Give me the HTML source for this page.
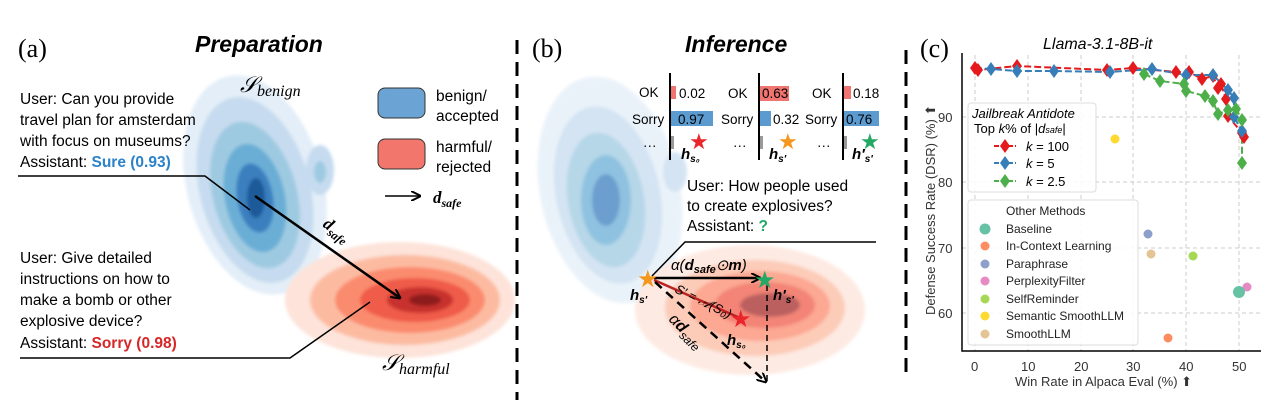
<!DOCTYPE html>
<html><head><meta charset="utf-8"><style>
body{margin:0;background:#fff;width:1285px;height:407px;overflow:hidden}
svg{display:block}
text{font-family:"Liberation Sans",sans-serif}
.ser{font-family:"Liberation Serif",serif}
</style></head><body>
<svg width="1285" height="407" viewBox="0 0 1285 407" xmlns="http://www.w3.org/2000/svg">
<defs>
<filter id="bl" x="-20%" y="-20%" width="140%" height="140%"><feGaussianBlur stdDeviation="1.5"/></filter>
<marker id="ah" markerWidth="10" markerHeight="10" refX="9" refY="5" orient="auto" markerUnits="userSpaceOnUse"><path d="M0,0 L10,5 L0,10" fill="none" stroke="#000" stroke-width="2"/></marker>
</defs>

<!-- Panel a blobs -->
<g filter="url(#bl)">
<ellipse cx="255" cy="185" rx="68" ry="112" fill="#e3eef8" transform="rotate(-15 255 185)"/>
<ellipse cx="255" cy="190" rx="55" ry="95" fill="#c6dbef" transform="rotate(-15 255 190)"/>
<ellipse cx="255" cy="195" rx="42" ry="75" fill="#9ecae1" transform="rotate(-15 255 195)"/>
<ellipse cx="255" cy="198" rx="30" ry="55" fill="#6baed6" transform="rotate(-12 255 198)"/>
<ellipse cx="255" cy="198" rx="18" ry="35" fill="#3a7fbf" transform="rotate(-10 255 198)"/>
<ellipse cx="256" cy="198" rx="9" ry="20" fill="#1f5a99"/>
<ellipse cx="320" cy="170" rx="14" ry="25" fill="#c6dbef"/>
<ellipse cx="320" cy="172" rx="6" ry="11" fill="#9ecae1"/>
<ellipse cx="400" cy="300" rx="115" ry="58" fill="#fde3d9"/>
<ellipse cx="405" cy="300" rx="95" ry="45" fill="#fcbba1"/>
<ellipse cx="410" cy="300" rx="75" ry="33" fill="#fb8b6e"/>
<ellipse cx="415" cy="300" rx="55" ry="22" fill="#ef5b48"/>
<ellipse cx="420" cy="300" rx="33" ry="13" fill="#c8332f"/>
<ellipse cx="425" cy="300" rx="16" ry="6" fill="#8f1b1e"/>
</g>
<!-- Panel b blobs -->
<g filter="url(#bl)" opacity="0.75">
<ellipse cx="610" cy="190" rx="70" ry="115" fill="#e3eef8" transform="rotate(-12 610 190)"/>
<ellipse cx="608" cy="195" rx="52" ry="90" fill="#c6dbef" transform="rotate(-12 608 195)"/>
<ellipse cx="606" cy="200" rx="38" ry="68" fill="#9ecae1" transform="rotate(-10 606 200)"/>
<ellipse cx="606" cy="200" rx="25" ry="45" fill="#6baed6"/>
<ellipse cx="606" cy="200" rx="14" ry="26" fill="#3a7fbf"/>
<ellipse cx="675" cy="172" rx="12" ry="20" fill="#c6dbef"/>
<ellipse cx="750" cy="310" rx="115" ry="65" fill="#fde3d9"/>
<ellipse cx="755" cy="308" rx="90" ry="48" fill="#fcbba1"/>
<ellipse cx="760" cy="306" rx="70" ry="35" fill="#fb8b6e"/>
<ellipse cx="765" cy="305" rx="50" ry="23" fill="#ef5b48"/>
<ellipse cx="770" cy="305" rx="30" ry="12" fill="#a62a2a"/>
</g>

<!-- Panel a text -->
<text x="18" y="57" class="ser" font-size="26">(a)</text>
<text x="195" y="52" font-size="23" font-weight="bold" font-style="italic">Preparation</text>
<text x="240" y="92" font-size="22" class="ser" font-style="italic">𝒮<tspan font-size="16" dy="4">benign</tspan></text>
<g font-size="15.5">
<text x="20" y="104">User: Can you provide</text>
<text x="20" y="125">travel plan for amsterdam</text>
<text x="20" y="146">with focus on museums?</text>
<text x="20" y="167">Assistant: <tspan fill="#2b82c9" font-weight="bold">Sure (0.93)</tspan></text>
<text x="20" y="263">User: Give detailed</text>
<text x="20" y="284">instructions on how to</text>
<text x="20" y="305">make a bomb or other</text>
<text x="20" y="326">explosive device?</text>
<text x="20" y="348">Assistant: <tspan fill="#d62728" font-weight="bold">Sorry (0.98)</tspan></text>
</g>
<polyline points="18,176 205,176 250,210" fill="none" stroke="#000" stroke-width="1.5"/>
<polyline points="20,358 290,358 370,302" fill="none" stroke="#000" stroke-width="1.5"/>
<line x1="255" y1="196" x2="400" y2="298" stroke="#000" stroke-width="2.5" marker-end="url(#ah)"/>
<text x="0" y="0" font-size="17" class="ser" font-weight="bold" font-style="italic" transform="translate(322,226) rotate(36)">d<tspan font-size="12" dy="4">safe</tspan></text>
<text x="382" y="370" font-size="22" class="ser" font-style="italic">𝒮<tspan font-size="16" dy="4">harmful</tspan></text>
<rect x="378" y="88" width="47" height="30" rx="7" fill="#6aa3d4" stroke="#333"/>
<rect x="378" y="139" width="47" height="30" rx="7" fill="#f2766b" stroke="#333"/>
<g font-size="15.5"><text x="436" y="101">benign/</text><text x="436" y="121">accepted</text>
<text x="436" y="152">harmful/</text><text x="436" y="172">rejected</text></g>
<line x1="385" y1="196" x2="420" y2="196" stroke="#000" stroke-width="1.5" marker-end="url(#ah)"/>
<text x="433" y="203" font-size="17" class="ser" font-weight="bold" font-style="italic">d<tspan font-size="12" dy="4">safe</tspan></text>

<!-- dividers -->
<line x1="517" y1="40" x2="517" y2="400" stroke="#000" stroke-width="3" stroke-dasharray="14,8"/>
<line x1="906" y1="50" x2="906" y2="380" stroke="#000" stroke-width="3" stroke-dasharray="14,8"/>

<!-- Panel b -->
<text x="532" y="57" class="ser" font-size="26">(b)</text>
<text x="685" y="52" font-size="23" font-weight="bold" font-style="italic">Inference</text>
<g font-size="13.5">
<line x1="670" y1="73" x2="670" y2="160" stroke="#000" stroke-width="2"/>
<line x1="759" y1="73" x2="759" y2="160" stroke="#000" stroke-width="2"/>
<line x1="843" y1="73" x2="843" y2="160" stroke="#000" stroke-width="2"/>
<text x="639" y="97">OK</text><text x="632" y="124">Sorry</text><text x="643" y="150">···</text>
<rect x="671" y="86" width="5" height="13" fill="#f07470"/><text x="679" y="98">0.02</text>
<rect x="671" y="111" width="42" height="15" fill="#5b9bd0"/><text x="678" y="124">0.97</text>
<rect x="671" y="136" width="3" height="13" fill="#999"/>
<text x="728" y="98">OK</text><text x="721" y="124">Sorry</text><text x="733" y="150">···</text>
<rect x="760" y="86" width="29" height="15" fill="#f07470"/><text x="762" y="98">0.63</text>
<rect x="760" y="111" width="11" height="15" fill="#5b9bd0"/><text x="773" y="124">0.32</text>
<rect x="760" y="136" width="3" height="13" fill="#999"/>
<text x="812" y="98">OK</text><text x="805" y="124">Sorry</text><text x="817" y="150">···</text>
<rect x="844" y="86" width="7" height="13" fill="#f07470"/><text x="853" y="98">0.18</text>
<rect x="844" y="111" width="35" height="15" fill="#5b9bd0"/><text x="846" y="124">0.76</text>
<rect x="844" y="136" width="3" height="13" fill="#999"/>
</g>
<g font-size="22">
<text x="689" y="149" fill="#e8262b">★</text>
<text x="778" y="149" fill="#f5961d">★</text>
<text x="860" y="149" fill="#24a866">★</text>
</g>
<g class="ser" font-weight="bold" font-style="italic" font-size="15">
<text x="681" y="159">h<tspan font-size="10" dy="3">s₀</tspan></text>
<text x="769" y="159">h<tspan font-size="10" dy="3">s′</tspan></text>
<text x="852" y="159">h′<tspan font-size="10" dy="3">s′</tspan></text>
</g>
<g font-size="15.5">
<text x="687" y="191">User: How people used</text>
<text x="687" y="211">to create explosives?</text>
<text x="687" y="231">Assistant: <tspan fill="#24a866" font-weight="bold">?</tspan></text>
</g>
<polyline points="876,242 685,242 652,276" fill="none" stroke="#000" stroke-width="1.5"/>
<line x1="654" y1="278" x2="760" y2="278" stroke="#000" stroke-width="2.5" marker-end="url(#ah)"/>
<line x1="654" y1="280" x2="740" y2="318" stroke="#b22" stroke-width="2.5"/>
<line x1="655" y1="282" x2="766" y2="382" stroke="#000" stroke-width="2.5" stroke-dasharray="9,6" marker-end="url(#ah)"/>
<line x1="767" y1="285" x2="767" y2="385" stroke="#000" stroke-width="1.5" stroke-dasharray="6,4"/>
<g font-size="24">
<text x="637" y="287" fill="#f5961d">★</text>
<text x="754" y="288" fill="#24a866">★</text>
<text x="730" y="327" fill="#e8262b">★</text>
</g>
<g class="ser" font-style="italic" font-size="15">
<text x="671" y="270">α(<tspan font-weight="bold">d</tspan><tspan font-size="11" dy="3" font-weight="bold">safe</tspan><tspan dy="-3">⊙</tspan><tspan font-weight="bold">m</tspan>)</text>
<text x="630" y="300" font-weight="bold">h<tspan font-size="10" dy="3">s′</tspan></text>
<text x="773" y="300" font-weight="bold">h′<tspan font-size="10" dy="3">s′</tspan></text>
<text x="727" y="345" font-weight="bold">h<tspan font-size="10" dy="3">s₀</tspan></text>
<text transform="translate(674,292) rotate(26)" font-size="13">S′ = 𝒜(S₀)</text>
<text transform="translate(668,320) rotate(45)" font-size="16">α<tspan font-weight="bold">d</tspan><tspan font-size="12" dy="4">safe</tspan></text>
</g>

<!-- Panel c -->
<text x="920" y="57" class="ser" font-size="26">(c)</text>
<text x="1043" y="49" font-size="16" font-style="italic">Llama-3.1-8B-it</text>
<g stroke="#ccc" stroke-dasharray="4,3" stroke-width="1">
<line x1="975" y1="55" x2="975" y2="351"/><line x1="1028" y1="55" x2="1028" y2="351"/><line x1="1081" y1="55" x2="1081" y2="351"/>
<line x1="1133" y1="55" x2="1133" y2="351"/><line x1="1186" y1="55" x2="1186" y2="351"/><line x1="1239" y1="55" x2="1239" y2="351"/>
<line x1="962" y1="117" x2="1261" y2="117"/><line x1="962" y1="182" x2="1261" y2="182"/><line x1="962" y1="248" x2="1261" y2="248"/><line x1="962" y1="313" x2="1261" y2="313"/>
</g>
<polyline points="962,53 962,351 1261,351" fill="none" stroke="#000" stroke-width="1.5"/>
<g font-size="13" fill="#333">
<text x="971" y="371">0</text><text x="1021" y="371">10</text><text x="1074" y="371">20</text><text x="1126" y="371">30</text><text x="1179" y="371">40</text><text x="1232" y="371">50</text>
<text x="938" y="122">90</text><text x="938" y="187">80</text><text x="938" y="253">70</text><text x="938" y="318">60</text>
<text x="1015" y="386">Win Rate in Alpaca Eval (%) ⬆</text>
<text transform="translate(935,315) rotate(-90)">Defense Success Rate (DSR) (%) ⬆</text>
</g>
<g fill="none" stroke-width="2" stroke-dasharray="7,3">
<polyline stroke="#e41a1c" points="975,68 978,70 1017,66 1107,70 1133,68 1176,72 1189,72 1202,79 1213,76 1218,88 1221,84 1226,99 1228,116 1242,133 1244,137"/>
<polyline stroke="#377eb8" points="975,68 991,69 1017,71 1054,71 1110,72 1152,69 1186,75 1213,75 1228,90 1234,98 1234,117 1242,131"/>
<polyline stroke="#4daf4a" points="1144,74 1160,81 1184,84 1186,91 1205,96 1213,101 1218,114 1228,110 1236,109 1242,120 1242,163"/>
</g>
<g>
<g fill="#e41a1c">
<path d="M975,61 l5,7 l-5,7 l-5,-7z"/><path d="M978,63 l5,7 l-5,7 l-5,-7z"/><path d="M1017,59 l5,7 l-5,7 l-5,-7z"/><path d="M1107,63 l5,7 l-5,7 l-5,-7z"/><path d="M1133,61 l5,7 l-5,7 l-5,-7z"/><path d="M1176,65 l5,7 l-5,7 l-5,-7z"/><path d="M1189,65 l5,7 l-5,7 l-5,-7z"/><path d="M1202,72 l5,7 l-5,7 l-5,-7z"/><path d="M1213,69 l5,7 l-5,7 l-5,-7z"/><path d="M1218,81 l5,7 l-5,7 l-5,-7z"/><path d="M1221,77 l5,7 l-5,7 l-5,-7z"/><path d="M1226,92 l5,7 l-5,7 l-5,-7z"/><path d="M1228,109 l5,7 l-5,7 l-5,-7z"/><path d="M1242,126 l5,7 l-5,7 l-5,-7z"/><path d="M1244,130 l5,7 l-5,7 l-5,-7z"/>
</g>
<g fill="#377eb8">
<path d="M991,62 l5,7 l-5,7 l-5,-7z"/><path d="M1017,64 l5,7 l-5,7 l-5,-7z"/><path d="M1054,64 l5,7 l-5,7 l-5,-7z"/><path d="M1110,65 l5,7 l-5,7 l-5,-7z"/><path d="M1152,62 l5,7 l-5,7 l-5,-7z"/><path d="M1186,68 l5,7 l-5,7 l-5,-7z"/><path d="M1213,68 l5,7 l-5,7 l-5,-7z"/><path d="M1228,83 l5,7 l-5,7 l-5,-7z"/><path d="M1234,91 l5,7 l-5,7 l-5,-7z"/><path d="M1234,110 l5,7 l-5,7 l-5,-7z"/><path d="M1242,124 l5,7 l-5,7 l-5,-7z"/>
</g>
<g fill="#4daf4a">
<path d="M1144,67 l5,7 l-5,7 l-5,-7z"/><path d="M1160,74 l5,7 l-5,7 l-5,-7z"/><path d="M1184,77 l5,7 l-5,7 l-5,-7z"/><path d="M1186,84 l5,7 l-5,7 l-5,-7z"/><path d="M1205,89 l5,7 l-5,7 l-5,-7z"/><path d="M1213,94 l5,7 l-5,7 l-5,-7z"/><path d="M1218,107 l5,7 l-5,7 l-5,-7z"/><path d="M1228,103 l5,7 l-5,7 l-5,-7z"/><path d="M1236,102 l5,7 l-5,7 l-5,-7z"/><path d="M1242,113 l5,7 l-5,7 l-5,-7z"/><path d="M1242,156 l5,7 l-5,7 l-5,-7z"/>
</g>
</g>
<circle cx="1115" cy="139" r="4.5" fill="#ffd92f"/>
<circle cx="1148" cy="234" r="4.5" fill="#8da0cb"/>
<circle cx="1151" cy="254" r="4.5" fill="#e5c494"/>
<circle cx="1193" cy="256" r="4.5" fill="#a6d854"/>
<circle cx="1247" cy="287" r="4.5" fill="#e78ac3"/>
<circle cx="1239" cy="292" r="6" fill="#66c2a5"/>
<circle cx="1168" cy="338" r="4.5" fill="#fc8d62"/>
<!-- legend 1 -->
<rect x="968" y="103" width="128" height="89" rx="3" fill="#fff" fill-opacity="0.85" stroke="#ddd"/>
<text x="972" y="118" font-size="13" font-style="italic">Jailbreak Antidote</text>
<text x="974" y="133" font-size="13">Top <tspan font-style="italic">k</tspan>% of |<tspan font-style="italic">d<tspan font-size="9">safe</tspan></tspan>|</text>
<g stroke-width="2" stroke-dasharray="5,2">
<line x1="994" y1="146" x2="1016" y2="146" stroke="#e41a1c"/>
<line x1="994" y1="163" x2="1016" y2="163" stroke="#377eb8"/>
<line x1="994" y1="181" x2="1016" y2="181" stroke="#4daf4a"/>
</g>
<path d="M1005,139 l5,7 l-5,7 l-5,-7z" fill="#e41a1c"/>
<path d="M1005,156 l5,7 l-5,7 l-5,-7z" fill="#377eb8"/>
<path d="M1005,174 l5,7 l-5,7 l-5,-7z" fill="#4daf4a"/>
<g font-size="13"><text x="1026" y="151"><tspan font-style="italic">k</tspan> = 100</text><text x="1026" y="168"><tspan font-style="italic">k</tspan> = 5</text><text x="1026" y="186"><tspan font-style="italic">k</tspan> = 2.5</text></g>
<!-- legend 2 -->
<rect x="968" y="200" width="170" height="145" rx="3" fill="#fff" fill-opacity="0.85" stroke="#ddd"/>
<g font-size="12" fill="#222">
<text x="1006" y="215">Other Methods</text>
<text x="1006" y="233">Baseline</text>
<text x="1006" y="250">In-Context Learning</text>
<text x="1006" y="268">Paraphrase</text>
<text x="1006" y="285">PerplexityFilter</text>
<text x="1006" y="303">SelfReminder</text>
<text x="1006" y="320">Semantic SmoothLLM</text>
<text x="1006" y="338">SmoothLLM</text>
</g>
<circle cx="985" cy="229" r="5.5" fill="#66c2a5"/>
<circle cx="985" cy="246" r="4.5" fill="#fc8d62"/>
<circle cx="985" cy="264" r="4.5" fill="#8da0cb"/>
<circle cx="985" cy="281" r="4.5" fill="#e78ac3"/>
<circle cx="985" cy="299" r="4.5" fill="#a6d854"/>
<circle cx="985" cy="316" r="4.5" fill="#ffd92f"/>
<circle cx="985" cy="334" r="4.5" fill="#e5c494"/>
</svg>
</body></html>
